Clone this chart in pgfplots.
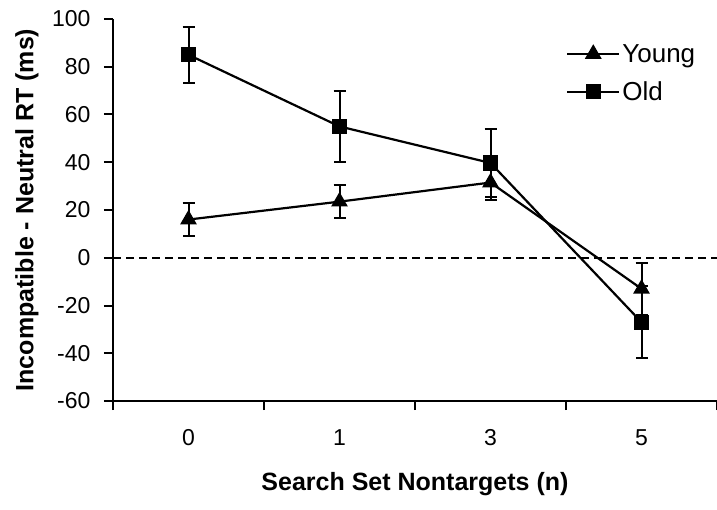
\documentclass[border=0pt]{standalone}
\usepackage{fontspec}
\setmainfont{Liberation Sans}
\usepackage{pgfplots}
\pgfplotsset{compat=1.18}

\pgfplotstableread{
x y e
0 16 7
1 23.5 7
2 31.5 7.5
3 -13 11
}\young
\pgfplotstableread{
x y e
0 85 11.7
1 55 15
2 39.7 14.3
3 -27 15
}\old

\begin{document}
\begin{tikzpicture}
\useasboundingbox (0,0) rectangle (717pt,509pt);
\begin{axis}[
    at={(113pt,108pt)}, anchor=south west,
    scale only axis,
    width=604pt, height=382pt,
    font=\fontsize{23}{27}\selectfont,
    /pgf/number format/assume math mode=true,
    xmin=-0.5, xmax=3.5,
    ymin=-60, ymax=100,
    ytick={-60,-40,...,100},
    xtick={0,1,2,3},
    xticklabels={0,1,3,5},
    minor xtick={-0.5,0.5,1.5,2.5,3.5},
    axis lines=left,
    axis line style={-, line width=2pt},
    tick align=outside,
    major tick length=9pt,
    minor tick length=9pt,
    x tick style={draw=none},
    minor x tick style={draw=black, line width=2pt},
    y tick style={line width=2pt, black},
    xticklabel style={yshift=-16pt},
    yticklabel style={xshift=-10pt},
    xlabel={\bfseries Search Set Nontargets (n)},
    ylabel={\bfseries Incompatible - Neutral RT (ms)},
    xlabel style={at={(rel axis cs:0.5,0)}, anchor=center, yshift=-83pt, font=\fontsize{25}{29}\selectfont},
    ylabel style={at={(rel axis cs:0,0.5)}, anchor=center, yshift=86pt, font=\fontsize{25}{29}\selectfont},
    clip=false,
    legend style={at={(0.745,0.945)}, anchor=north west, draw=none, fill=none,
        row sep=14pt, font=\fontsize{26}{30}\selectfont},
    legend cell align=left,
    legend image code/.code={%
        \draw[mark repeat=2, mark phase=2, #1] plot coordinates {(0pt,0pt) (26pt,0pt) (52pt,0pt)};},
    error bars/y dir=both,
    error bars/y explicit,
    error bars/error bar style={line width=2pt},
    error bars/error mark options={rotate=90, mark size=6pt, line width=2pt},
]
\addplot [black, dash pattern=on 8pt off 5pt, forget plot, line width=1.8pt] coordinates {(-0.5,0) (3.5,0)};
\addplot [black, line width=2.2pt, mark=triangle*, mark size=7.5pt, mark options={solid}]
    table [x=x, y=y, y error=e] {\young};
\addlegendentry{Young}
\addplot [black, line width=2.2pt, mark=square*, mark size=6.5pt, mark options={solid}]
    table [x=x, y=y, y error=e] {\old};
\addlegendentry{Old}
\end{axis}
\end{tikzpicture}
\end{document}
